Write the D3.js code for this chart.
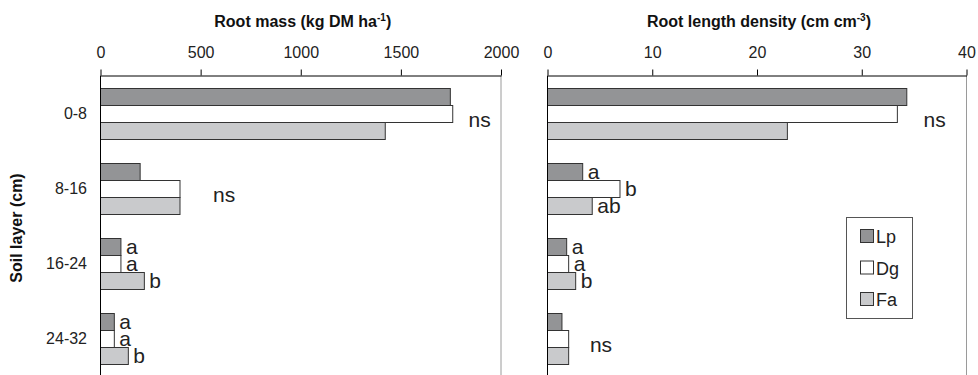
<!DOCTYPE html>
<html>
<head>
<meta charset="utf-8">
<script src="https://cdn.jsdelivr.net/npm/d3@7"></script>
<style>
  body { margin: 0; background: #fff; }
  svg { font-family: "Liberation Sans", Arial, sans-serif; }
</style>
</head>
<body>
<div id="chart"></div>
<script>
// soil layers and treatments
var layers = ["0-8", "8-16", "16-24", "24-32"];
var series = ["Lp", "Dg", "Fa"];

// root mass (kg DM ha-1)
var massLp = [1747, 198, 102, 69];
var massDg = [1759, 397, 102, 69];
var massFa = [1422, 397, 219, 139];
var massTicks = [0, 500, 1000, 1500, 2000];
var massLetters = [null, null, ["a", "a", "b"], ["a", "a", "b"]];
var massNs = [["0-8", 1838], ["8-16", 562]];

// root length density (cm cm-3)
var rldLp = [34.3, 3.36, 1.83, 1.38];
var rldDg = [33.4, 6.92, 2.02, 2.02];
var rldFa = [22.9, 4.27, 2.69, 2.02];
var rldTicks = [0, 10, 20, 30, 40];
var rldLetters = [null, ["a", "b", "ab"], ["a", "a", "b"], null];
var rldNs = [["0-8", 35.9], ["24-32", 4.05]];

var colors = { Lp: "#939496", Dg: "#ffffff", Fa: "#c9cacc" };

var width = 978, height = 375;
var top_y = 75.5, bottom_y = 375.5;

var svg = d3.select("#chart").append("svg")
    .attr("width", width)
    .attr("height", height);

var y0 = d3.scaleBand()
    .domain(layers)
    .range([top_y, bottom_y])
    .paddingInner(0.32)
    .paddingOuter(0.16);

var y1 = d3.scaleBand()
    .domain(series)
    .range([0, y0.bandwidth()]);

function drawPanel(x0, x1, maxVal, ticks, vals, letters, ns, title, sup) {
    var x = d3.scaleLinear().domain([0, maxVal]).range([x0, x1]);
    var g = svg.append("g");

    // right frame line
    g.append("line")
        .attr("x1", x1).attr("x2", x1)
        .attr("y1", top_y).attr("y2", height)
        .attr("stroke", "#9a9a9a");

    // bars
    series.forEach(function(s, si) {
        g.selectAll(".bar" + s)
            .data(vals[si])
            .enter()
            .append("rect")
            .attr("x", x(0))
            .attr("y", function(d, i) { return Math.round(y0(layers[i]) + y1(s)) + 0.5; })
            .attr("width", function(d) { return x(d) - x(0); })
            .attr("height", y1.bandwidth())
            .attr("fill", colors[s])
            .attr("stroke", "#333")
            .attr("stroke-width", 1);
    });

    // letters next to bars
    letters.forEach(function(ls, li) {
        if (!ls) return;
        ls.forEach(function(t, si) {
            g.append("text")
                .attr("x", x(vals[si][li]) + 5)
                .attr("y", y0(layers[li]) + y1(series[si]) + y1.bandwidth() / 2 + 7.5)
                .attr("font-size", 21)
                .attr("fill", "#222")
                .text(t);
        });
    });

    // ns labels
    ns.forEach(function(n) {
        g.append("text")
            .attr("x", x(n[1]))
            .attr("y", y0(n[0]) + y0.bandwidth() / 2 + 14)
            .attr("font-size", 21)
            .attr("fill", "#222")
            .text("ns");
    });

    // left axis line
    g.append("line")
        .attr("x1", x(0)).attr("x2", x(0))
        .attr("y1", top_y).attr("y2", height)
        .attr("stroke", "#000");

    // top axis
    var axis = d3.axisTop(x)
        .tickValues(ticks)
        .tickSize(6)
        .tickSizeOuter(0)
        .tickPadding(12)
        .tickFormat(d3.format("d"));
    var ax = g.append("g")
        .attr("transform", "translate(0," + top_y + ")")
        .call(axis);
    ax.selectAll("text")
        .attr("font-size", 16)
        .attr("font-family", "Liberation Sans, Arial, sans-serif")
        .attr("fill", "#222");
    ax.select(".domain").attr("stroke", "#000");

    // title
    var t = g.append("text")
        .attr("x", (x0 + x1) / 2 + 2)
        .attr("y", 27)
        .attr("text-anchor", "middle")
        .attr("font-size", 16)
        .attr("font-weight", "bold")
        .attr("fill", "#111");
    t.append("tspan").text(title);
    t.append("tspan").attr("font-size", 10).attr("dy", -6).text(sup);
    t.append("tspan").attr("dy", 6).text(")");
    return x;
}

drawPanel(100.5, 501, 2000, massTicks, [massLp, massDg, massFa], massLetters, massNs,
    "Root mass (kg DM ha", "-1");
drawPanel(547.5, 966.5, 40, rldTicks, [rldLp, rldDg, rldFa], rldLetters, rldNs,
    "Root length density (cm cm", "-3");

// layer labels
svg.selectAll(".layer")
    .data(layers)
    .enter()
    .append("text")
    .attr("x", 87)
    .attr("y", function(d) { return y0(d) + y0.bandwidth() / 2 + 6; })
    .attr("text-anchor", "end")
    .attr("font-size", 16)
    .attr("fill", "#222")
    .text(function(d) { return d; });

// y title
svg.append("text")
    .attr("transform", "translate(22,228) rotate(-90)")
    .attr("text-anchor", "middle")
    .attr("font-size", 16)
    .attr("font-weight", "bold")
    .attr("fill", "#111")
    .text("Soil layer (cm)");

// legend
var legend = svg.append("g").attr("transform", "translate(846,217.5)");
legend.append("rect")
    .attr("x", 0.5).attr("y", 0)
    .attr("width", 66).attr("height", 101)
    .attr("fill", "#fff")
    .attr("stroke", "#555");
series.forEach(function(s, i) {
    legend.append("rect")
        .attr("x", 14.5).attr("y", 12 + i * 31.5)
        .attr("width", 13).attr("height", 13)
        .attr("fill", colors[s])
        .attr("stroke", "#333");
    legend.append("text")
        .attr("x", 30).attr("y", 25.5 + i * 31.5)
        .attr("font-size", 18)
        .attr("fill", "#222")
        .text(s);
});
</script>
</body>
</html>
